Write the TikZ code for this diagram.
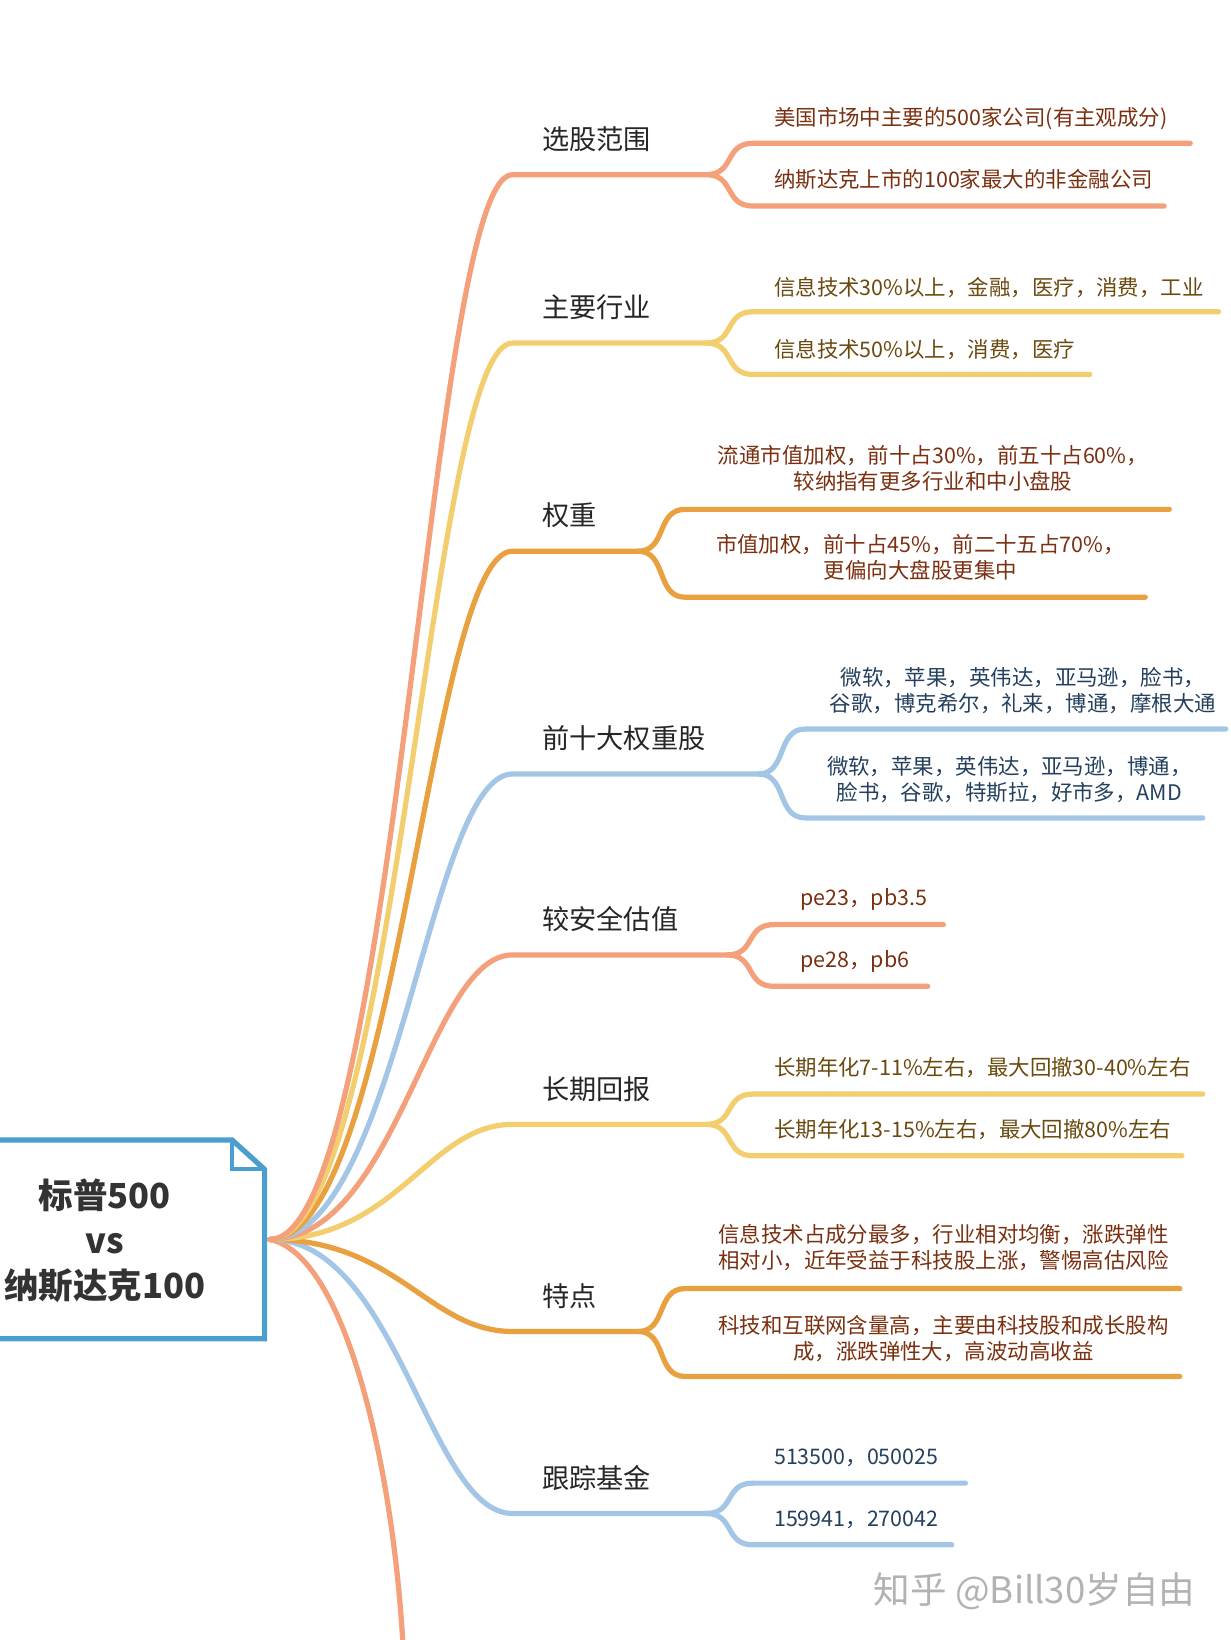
\documentclass[tikz,border=0pt]{standalone}
\usepackage{fontspec}
\setmainfont{Noto Sans CJK SC}
\begin{document}
\begin{tikzpicture}[x=1pt,y=-1pt,
  br/.style={line width=5pt,line cap=round},
  blab/.style={anchor=west,font=\fontsize{26}{30}\selectfont,text=black!85},
  leaf/.style={anchor=west,font=\fontsize{20.5}{25}\selectfont,align=center,inner sep=0pt},
  leafc/.style={font=\fontsize{20.5}{25}\selectfont,align=center,inner sep=0pt}]
\definecolor{cs}{HTML}{F4A07A}\definecolor{cy}{HTML}{F2CE6E}
\definecolor{co}{HTML}{E9A03E}\definecolor{cb}{HTML}{A4C6E6}
\definecolor{ts}{HTML}{7A3010}\definecolor{ty}{HTML}{6B4A10}
\definecolor{tb}{HTML}{24405E}\definecolor{rootb}{HTML}{4A9FD0}
\useasboundingbox (0,0) rectangle (1176,1568);
\coordinate (c) at (258,1185);
\newcommand{\mybranch}[9]{%
  \coordinate (#8a) at (490,#2);\coordinate (#8s) at (#9,#2);
  \coordinate (#8l1) at (#9+45,#4);\coordinate (#8e1) at (#5,#4);
  \coordinate (#8l2) at (#9+45,#6);\coordinate (#8e2) at (#7,#6);
  \draw[br,#1] (c) .. controls (380,1185) and (410,#2) .. (#8a) -- (#8s)
     .. controls (#9+28,#2) and (#9+17,#4) .. (#8l1) -- (#8e1);
  \draw[br,#1] (#8s) .. controls (#9+28,#2) and (#9+17,#6) .. (#8l2) -- (#8e2);
  \node[blab] (#8t) at (515,#2-34) {#3};}
\draw[br,cs] (c) .. controls (330,1200) and (375,1400) .. (385,1568);
\mybranch{cb}{1447}{跟踪基金}{1418}{923}{1477}{910}{h}{675}
\mybranch{co}{1273}{特点}{1232}{1128}{1316}{1128}{g}{610}
\mybranch{cy}{1075}{长期回报}{1046}{1150}{1105}{1130}{f}{675}
\mybranch{cs}{913}{较安全估值}{884}{902}{943}{887}{e}{695}
\mybranch{cb}{740}{前十大权重股}{697}{1172}{782}{1150}{d}{725}
\mybranch{co}{527}{权重}{487}{1118}{571}{1095}{w}{610}
\mybranch{cy}{328}{主要行业}{298}{1165}{358}{1042}{b}{675}
\mybranch{cs}{167}{选股范围}{137}{1138}{197}{1113}{a}{675}
\node[leaf,text=ts] (a1) at (740,113) {美国市场中主要的500家公司(有主观成分)};
\node[leaf,text=ts] (a2) at (740,172) {纳斯达克上市的100家最大的非金融公司};
\node[leaf,text=ty] (b1) at (740,275) {信息技术30\%以上，金融，医疗，消费，工业};
\node[leaf,text=ty] (b2) at (740,334) {信息技术50\%以上，消费，医疗};
\node[leafc,text=ts] (w1) at (892,448) {流通市值加权，前十占30\%，前五十占60\%，\\较纳指有更多行业和中小盘股};
\node[leafc,text=ts] (w2) at (880,533) {市值加权，前十占45\%，前二十五占70\%，\\更偏向大盘股更集中};
\node[leafc,text=tb] (d1) at (978,660) {微软，苹果，英伟达，亚马逊，脸书，\\谷歌，博克希尔，礼来，博通，摩根大通};
\node[leafc,text=tb] (d2) at (965,745) {微软，苹果，英伟达，亚马逊，博通，\\脸书，谷歌，特斯拉，好市多，AMD};
\node[leaf,text=ts] (e1) at (765,860) {pe23，pb3.5};
\node[leaf,text=ts] (e2) at (765,919) {pe28，pb6};
\node[leaf,text=ty] (f1) at (740,1021) {长期年化7-11\%左右，最大回撤30-40\%左右};
\node[leaf,text=ty] (f2) at (740,1080) {长期年化13-15\%左右，最大回撤80\%左右};
\node[leafc,text=ts] (g1) at (902,1193) {信息技术占成分最多，行业相对均衡，涨跌弹性\\相对小，近年受益于科技股上涨，警惕高估风险};
\node[leafc,text=ts] (g2) at (902,1280) {科技和互联网含量高，主要由科技股和成长股构\\成，涨跌弹性大，高波动高收益};
\node[leaf,text=tb] (h1) at (740,1394) {513500，050025};
\node[leaf,text=tb] (h2) at (740,1453) {159941，270042};
\draw[line width=5pt,rootb,fill=white,line join=miter] (-5,1090) -- (222,1090) -- (253,1118) -- (253,1280) -- (-5,1280) -- cycle;
\draw[line width=4pt,rootb] (222,1090) -- (222,1118) -- (253,1118);
\node[font=\bfseries\fontsize{33}{43}\selectfont,text=black!80,align=center] (root) at (100,1186) {标普500\\vs\\纳斯达克100};
\node[anchor=west,font=\fontsize{35}{40}\selectfont,text=black!30] (wm) at (832,1521) {知乎 @Bill30岁自由};
\end{tikzpicture}
\end{document}
